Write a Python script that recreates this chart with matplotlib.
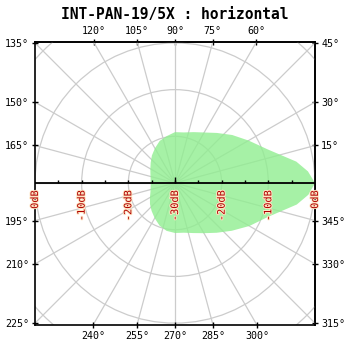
import numpy as np
import matplotlib
matplotlib.use('Agg')
import matplotlib.pyplot as plt
import matplotlib.patheffects as pe
from matplotlib.patches import Circle

# horizontal radiation pattern, gain in dB relative to the main lobe
angles = [0, 5, 10, 20, 30, 40, 50, 60, 70, 80, 90, 100, 110, 120, 130, 140, 150, 160, 170,
          180, 190, 200, 210, 220, 230, 240, 250, 260, 270, 280, 290, 300, 310, 320, 330, 340,
          350, 355]
gain_db = [0.0, -1.4, -3.6, -8.9, -11.8, -14.0, -16.0, -17.5, -18.4, -19.0, -19.1, -19.8,
           -20.4, -21.4, -22.3, -23.2, -23.9, -24.4, -24.7,
           -24.8, -24.7, -24.4, -23.8, -23.0, -22.2, -21.3, -20.3, -19.6, -19.3, -19.2,
           -18.6, -17.6, -16.1, -14.1, -11.6, -8.8, -3.5, -1.3]

floor_db = -30
ring_db = [-20, -10, 0, 10]
scale_ticks = [-30, -20, -10, 0, 10, 20, 30]
minor_ticks = [-25, -20, -15, -10, -5, 0, 5, 10, 15, 20, 25]
top_angles = [120, 105, 90, 75, 60]
bottom_angles = [240, 255, 270, 285, 300]
left_angles = [135, 150, 165, 195, 210, 225]
right_angles = [45, 30, 15, 345, 330, 315]

plt.rcParams['font.family'] = 'DejaVu Sans Mono'

XMAX = 30.0
YTOP, YBOT = 30.2, -30.4

fig = plt.figure(figsize=(3.5, 3.5), dpi=100)
ax = fig.add_axes([35/350, 25/350, 280/350, 283/350])
ax.set_xlim(-XMAX, XMAX)
ax.set_ylim(YBOT, YTOP)

# pattern fill
th = np.radians(angles)
r = np.array(gain_db) - floor_db
ax.fill(r*np.cos(th), r*np.sin(th), color='#90ee90', alpha=0.8, lw=0, zorder=2)

# polar grid
for db in ring_db:
    ax.add_patch(Circle((0, 0), db - floor_db, fill=False, ec='#cccccc', lw=0.9, zorder=1))
for a in range(0, 360, 15):
    t = np.radians(a)
    ax.plot([0, 60*np.cos(t)], [0, 60*np.sin(t)], color='#cccccc', lw=0.9, zorder=1)

# dB scale along the 0-180 line
ax.axhline(0, color='black', lw=1.3, zorder=3)
ax.vlines(minor_ticks, 0, 0.7, color='black', lw=1, zorder=3)
ax.vlines([0], 0, 1.2, color='black', lw=1, zorder=3)
for x in scale_ticks:
    ax.text(x, -1.6, '%ddB' % (floor_db + abs(x)), rotation=90, ha='center', va='top',
            fontsize=7.4, color='#b00000', zorder=4,
            path_effects=[pe.withStroke(linewidth=1.4, foreground='#ffe6c4')])

# angle labels where the spokes meet the frame
def deg(a):
    return '%d°' % a

tk = dict(direction='inout', length=5, width=1, labelsize=7.2, pad=2)
ax.set_xticks([YBOT*np.cos(np.radians(a))/np.sin(np.radians(a)) for a in bottom_angles],
              [deg(a) for a in bottom_angles])
ax.set_yticks([-XMAX*np.tan(np.radians(a)) for a in left_angles],
              [deg(a) for a in left_angles])
ax.tick_params(**tk)

top = ax.secondary_xaxis('top')
top.set_xticks([YTOP*np.cos(np.radians(a))/np.sin(np.radians(a)) for a in top_angles],
               [deg(a) for a in top_angles])
top.tick_params(**tk)
right = ax.secondary_yaxis('right')
right.set_yticks([XMAX*np.tan(np.radians(a)) for a in right_angles],
                 [deg(a) for a in right_angles])
right.tick_params(**tk)

for sp in list(ax.spines.values()) + list(top.spines.values()) + list(right.spines.values()):
    sp.set_linewidth(1.2)

fig.text(0.5, 1 - 14/350, 'INT-PAN-19/5X : horizontal', ha='center', va='center',
         fontsize=10.5, fontweight='bold')

fig.savefig('out.png', dpi=100)
